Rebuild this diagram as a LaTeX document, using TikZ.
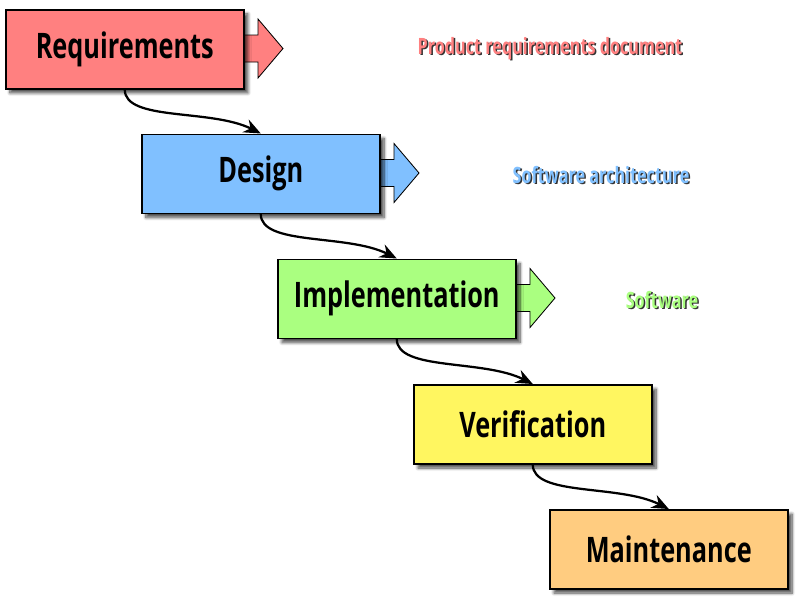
\documentclass[tikz,border=0pt]{standalone}
\usepackage{fontspec}
\setmainfont{Open Sans}[FakeStretch=0.72]
\usetikzlibrary{shadows.blur,arrows.meta}
\definecolor{creq}{HTML}{FF8080}
\definecolor{cdes}{HTML}{80C0FF}
\definecolor{cimp}{HTML}{AAFF80}
\definecolor{cver}{HTML}{FFF660}
\definecolor{cmai}{HTML}{FFCC80}
\begin{document}
\begin{tikzpicture}[x=0.025cm,y=-0.025cm,
  phase/.style={draw=black,line width=1.1pt,minimum width=238*0.025cm,minimum height=79*0.025cm,
     inner sep=0pt,anchor=north west,font=\fontsize{25}{28}\selectfont\bfseries,
     blur shadow={shadow xshift=3pt,shadow yshift=-3pt,shadow blur steps=8,shadow opacity=70}},
  blockarrow/.style={draw=black,line width=0.6pt},
  flow/.style={line width=1.6pt,-{Stealth[length=12pt,width=10pt]}},
  outlbl/.style={font=\fontsize{16}{18}\selectfont\bfseries}]
\useasboundingbox (0,0) rectangle (800,600);
% block arrows (behind boxes)
\foreach \xx/\yy/\cc in {243/48.5/creq,379/173/cdes,515/298/cimp}{
  \draw[blockarrow,fill=\cc] (\xx-2,\yy-13.5) -- (\xx+15,\yy-13.5) -- (\xx+15,\yy-29.5) -- (\xx+40,\yy) -- (\xx+15,\yy+29.5) -- (\xx+15,\yy+13.5) -- (\xx-2,\yy+13.5);
}
\node[phase,fill=creq] (req) at (5,9) {Requirements};
\node[phase,fill=cdes] (des) at (141,133.5) {Design};
\node[phase,fill=cimp] (imp) at (277,258.5) {Implementation};
\node[phase,fill=cver] (ver) at (413,384) {Verification};
\node[phase,fill=cmai] (mai) at (549,509) {Maintenance};
% connectors
\draw[flow] (req.south) .. controls +(0,32) and +(-50,-25) .. (des.north);
\draw[flow] (des.south) .. controls +(0,32) and +(-50,-25) .. (imp.north);
\draw[flow] (imp.south) .. controls +(0,32) and +(-50,-25) .. (ver.north);
\draw[flow] (ver.south) .. controls +(0,32) and +(-50,-25) .. (mai.north);
% output labels
\node[outlbl,text=black!80] at (551.5,50) {Product requirements document};
\node[outlbl,text=creq] (l1) at (550,48.5) {Product requirements document};
\node[outlbl,text=black!80] at (602.5,176) {Software architecture};
\node[outlbl,text=cdes] (l2) at (601,174.5) {Software architecture};
\node[outlbl,text=black!80] at (663.5,301) {Software};
\node[outlbl,text=cimp] (l3) at (662,299.5) {Software};
\end{tikzpicture}
\end{document}
